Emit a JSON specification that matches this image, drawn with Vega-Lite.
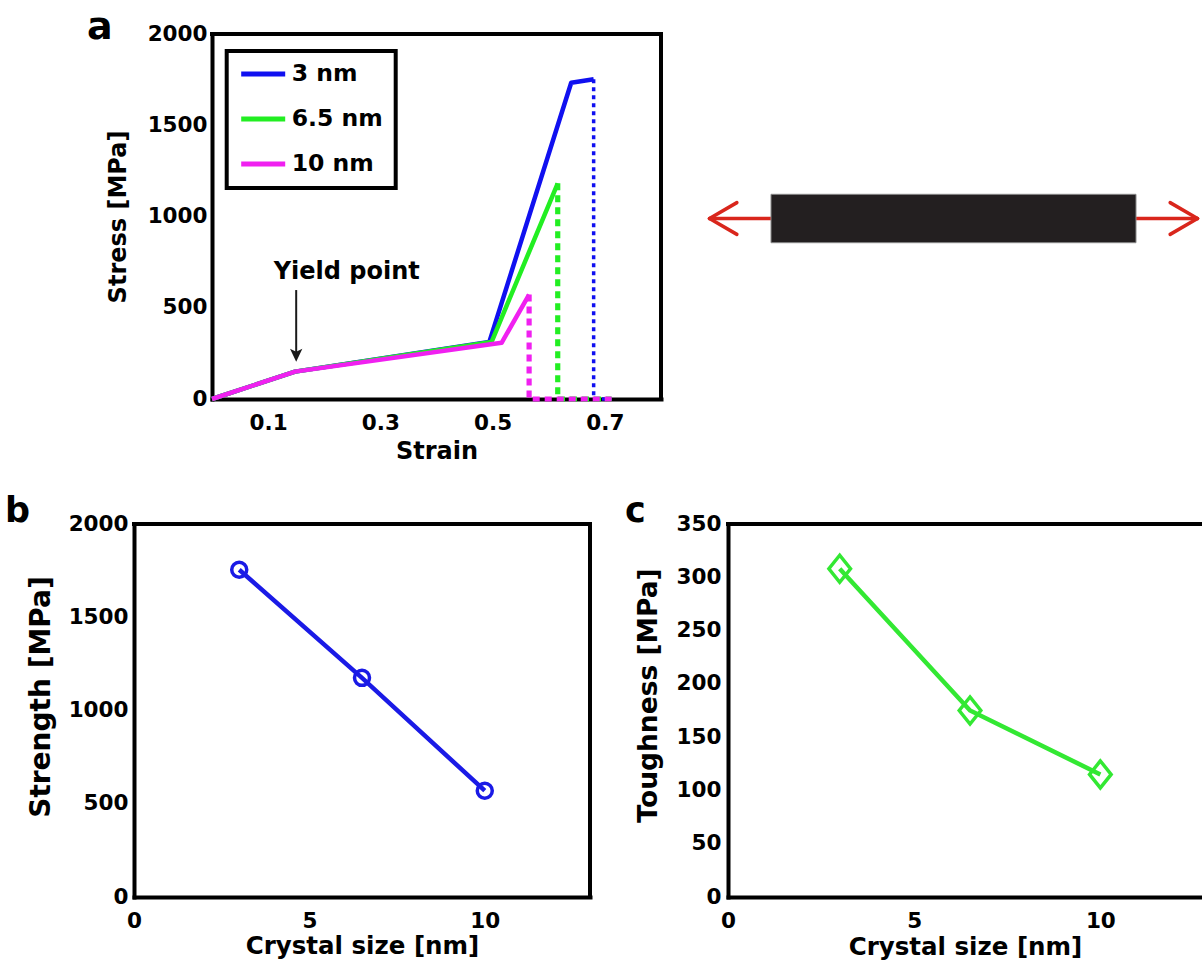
{
  "$schema": "https://vega.github.io/schema/vega-lite/v6.json",
  "autosize": {"type": "none"},
  "padding": {"left": 134, "top": 34, "right": 1068, "bottom": 931},
  "background": "white",
  "columns": 2,
  "align": "each",
  "bounds": "flush",
  "spacing": {"row": 125, "column": 20},
  "config": {
    "view": {"stroke": null},
    "font": "DejaVu Sans",
    "axis": {
      "labelFont": "DejaVu Sans", "labelFontWeight": "bold", "labelFontSize": 21.5, "labelColor": "black",
      "titleFont": "DejaVu Sans", "titleFontWeight": "bold", "titleFontSize": 24, "titleColor": "black",
      "ticks": false, "tickSize": 0, "grid": false,
      "domain": true, "domainColor": "black", "domainWidth": 4, "domainCap": "square",
      "labelFlush": false, "labelOverlap": false
    },
    "legend": {"strokeWidth": 4},
    "title": {"font": "DejaVu Sans", "fontWeight": "bold", "color": "black", "anchor": "start", "frame": "group", "baseline": "alphabetic", "offset": 0}
  },
  "datasets": {
    "curves": [
      {"series": "3 nm", "part": "solid", "i": 0, "strain": 0, "stress": 0},
      {"series": "3 nm", "part": "solid", "i": 1, "strain": 0.148, "stress": 150},
      {"series": "3 nm", "part": "solid", "i": 2, "strain": 0.494, "stress": 312},
      {"series": "3 nm", "part": "solid", "i": 3, "strain": 0.640, "stress": 1733},
      {"series": "3 nm", "part": "solid", "i": 4, "strain": 0.680, "stress": 1752},
      {"series": "3 nm", "part": "dot", "i": 5, "strain": 0.680, "stress": 1752},
      {"series": "3 nm", "part": "dot", "i": 6, "strain": 0.680, "stress": 0},
      {"series": "3 nm", "part": "dot", "i": 7, "strain": 0.712, "stress": 0},
      {"series": "6.5 nm", "part": "solid", "i": 0, "strain": 0, "stress": 0},
      {"series": "6.5 nm", "part": "solid", "i": 1, "strain": 0.148, "stress": 150},
      {"series": "6.5 nm", "part": "solid", "i": 2, "strain": 0.498, "stress": 312},
      {"series": "6.5 nm", "part": "solid", "i": 3, "strain": 0.616, "stress": 1182},
      {"series": "6.5 nm", "part": "dot", "i": 4, "strain": 0.616, "stress": 1182},
      {"series": "6.5 nm", "part": "dot", "i": 5, "strain": 0.616, "stress": 0},
      {"series": "6.5 nm", "part": "dot", "i": 6, "strain": 0.712, "stress": 0},
      {"series": "10 nm", "part": "solid", "i": 0, "strain": 0, "stress": 0},
      {"series": "10 nm", "part": "solid", "i": 1, "strain": 0.148, "stress": 150},
      {"series": "10 nm", "part": "solid", "i": 2, "strain": 0.516, "stress": 308},
      {"series": "10 nm", "part": "solid", "i": 3, "strain": 0.565, "stress": 572},
      {"series": "10 nm", "part": "dot", "i": 4, "strain": 0.565, "stress": 572},
      {"series": "10 nm", "part": "dot", "i": 5, "strain": 0.565, "stress": 0},
      {"series": "10 nm", "part": "dot", "i": 6, "strain": 0.712, "stress": 0}
    ],
    "strength": [
      {"size": 3, "strength": 1755},
      {"size": 6.5, "strength": 1175},
      {"size": 10, "strength": 570}
    ],
    "toughness": [
      {"size": 3, "toughness": 308},
      {"size": 6.5, "toughness": 175},
      {"size": 10, "toughness": 115}
    ],
    "arrows": [
      {"x": -1.337, "y": 0, "x2": -1, "y2": 0},
      {"x": -1.337, "y": 0, "x2": -1.187, "y2": 0.087},
      {"x": -1.337, "y": 0, "x2": -1.187, "y2": -0.087},
      {"x": 1.337, "y": 0, "x2": 1, "y2": 0},
      {"x": 1.337, "y": 0, "x2": 1.187, "y2": 0.087},
      {"x": 1.337, "y": 0, "x2": 1.187, "y2": -0.087}
    ],
    "bar": [
      {"x": -1, "x2": 1, "y": -0.1326, "y2": 0.1326}
    ]
  },
  "concat": [
    {
      "width": 527, "height": 365,
      "title": {"text": "a", "fontSize": 38, "dx": -47, "dy": 28},
      "layer": [
        {
          "data": {"values": [{}]},
          "mark": {"type": "rule", "strokeWidth": 4, "strokeCap": "square", "color": "black"},
          "encoding": {
            "x": {"datum": 0, "type": "quantitative"},
            "x2": {"datum": 0.8},
            "y": {"datum": 2000, "type": "quantitative"}
          }
        },
        {
          "data": {"values": [{}]},
          "mark": {"type": "rule", "strokeWidth": 4, "strokeCap": "square", "color": "black"},
          "encoding": {"x": {"datum": 0.8, "type": "quantitative"}}
        },
        {
          "data": {"name": "curves"},
          "transform": [{"filter": "datum.part === 'solid'"}],
          "mark": {"type": "line", "strokeWidth": 4.5, "strokeJoin": "round"},
          "encoding": {
            "x": {"field": "strain", "type": "quantitative",
                  "scale": {"domain": [0, 0.8], "range": [78, 527], "nice": false, "zero": false},
                  "axis": {"values": [0.1, 0.3, 0.5, 0.7], "format": ".1f", "title": "Strain",
                           "labelPadding": 13, "titleY": 52.7, "titleBaseline": "middle"}},
            "y": {"field": "stress", "type": "quantitative",
                  "scale": {"domain": [0, 2000], "nice": false},
                  "axis": {"values": [0, 500, 1000, 1500, 2000], "format": "d", "title": "Stress [MPa]", "offset": -78,
                           "labelPadding": 5, "titleX": -94, "titleY": 182.5, "titleBaseline": "middle"}},
            "color": {"field": "series", "type": "nominal",
                      "scale": {"domain": ["3 nm", "6.5 nm", "10 nm"], "range": ["#1010f0", "#22ee22", "#f020f0"]},
                      "legend": {"orient": "none", "legendX": 92.7, "legendY": 17, "title": null,
                                 "strokeColor": "black", "fillColor": "white", "padding": 12,
                                 "symbolType": "stroke", "symbolSize": 1936, "symbolStrokeWidth": 5,
                                 "clipHeight": 22, "rowPadding": 21, "labelOffset": 4, "symbolOffset": 0,
                                 "labelFont": "DejaVu Sans", "labelFontSize": 23.5, "labelFontWeight": "bold",
                                 "labelColor": "black", "labelLimit": 300}},
            "order": {"field": "i", "type": "quantitative"}
          }
        },
        {
          "data": {"name": "curves"},
          "transform": [{"filter": "datum.part === 'dot' && datum.series === '3 nm'"}],
          "mark": {"type": "line", "strokeWidth": 3.5, "strokeDash": [4, 4]},
          "encoding": {
            "x": {"field": "strain", "type": "quantitative"},
            "y": {"field": "stress", "type": "quantitative"},
            "color": {"field": "series", "type": "nominal", "legend": null},
            "order": {"field": "i", "type": "quantitative"}
          }
        },
        {
          "data": {"name": "curves"},
          "transform": [{"filter": "datum.part === 'dot' && datum.series !== '3 nm'"}],
          "mark": {"type": "line", "strokeWidth": 5.2, "strokeDash": [7, 5]},
          "encoding": {
            "x": {"field": "strain", "type": "quantitative"},
            "y": {"field": "stress", "type": "quantitative"},
            "color": {"field": "series", "type": "nominal", "legend": null},
            "order": {"field": "i", "type": "quantitative"}
          }
        },
        {
          "data": {"values": [{}]},
          "mark": {"type": "text", "text": "Yield point", "font": "DejaVu Sans", "fontSize": 24, "fontWeight": "bold",
                   "align": "center", "baseline": "middle", "color": "black"},
          "encoding": {
            "x": {"datum": 0.24, "type": "quantitative"},
            "y": {"datum": 696, "type": "quantitative"}
          }
        },
        {
          "data": {"values": [{}]},
          "mark": {"type": "rule", "strokeWidth": 2, "color": "#1a1a1a"},
          "encoding": {
            "x": {"datum": 0.15, "type": "quantitative"},
            "y": {"datum": 597, "type": "quantitative"},
            "y2": {"datum": 250}
          }
        },
        {
          "data": {"values": [{}]},
          "mark": {"type": "point", "shape": "M0,1L-0.95,-1L0,-0.55L0.95,-1Z", "filled": true, "size": 169,
                   "color": "#1a1a1a", "opacity": 1, "strokeWidth": 0},
          "encoding": {
            "x": {"datum": 0.15, "type": "quantitative"},
            "y": {"datum": 240, "type": "quantitative"}
          }
        }
      ]
    },
    {
      "width": 521, "height": 365,
      "layer": [
        {
          "data": {"name": "arrows"},
          "mark": {"type": "rule", "color": "#d9261c", "strokeWidth": 3.5, "strokeCap": "round"},
          "encoding": {
            "x": {"field": "x", "type": "quantitative", "scale": {"domain": [-1.4932, 1.3616], "nice": false, "zero": false}, "axis": null},
            "x2": {"field": "x2"},
            "y": {"field": "y", "type": "quantitative", "scale": {"domain": [-0.989, 1.011], "nice": false, "zero": false}, "axis": null},
            "y2": {"field": "y2"}
          }
        },
        {
          "data": {"name": "bar"},
          "mark": {"type": "rect", "color": "#231f20", "stroke": "#8a8a8a", "strokeWidth": 1},
          "encoding": {
            "x": {"field": "x", "type": "quantitative", "scale": {"domain": [-1.4932, 1.3616], "nice": false, "zero": false}, "axis": null},
            "x2": {"field": "x2"},
            "y": {"field": "y", "type": "quantitative", "scale": {"domain": [-0.989, 1.011], "nice": false, "zero": false}, "axis": null},
            "y2": {"field": "y2"}
          }
        }
      ]
    },
    {
      "width": 456, "height": 373,
      "title": {"text": "b", "fontSize": 35, "dx": -129, "dy": 20},
      "layer": [
        {
          "data": {"values": [{}]},
          "mark": {"type": "rule", "strokeWidth": 4, "strokeCap": "square", "color": "black"},
          "encoding": {"y": {"datum": 2000, "type": "quantitative"}}
        },
        {
          "data": {"values": [{}]},
          "mark": {"type": "rule", "strokeWidth": 4, "strokeCap": "square", "color": "black"},
          "encoding": {"x": {"datum": 13, "type": "quantitative"}}
        },
        {
          "data": {"name": "strength"},
          "mark": {"type": "line", "color": "#1a1ae6", "strokeWidth": 4.5},
          "encoding": {
            "x": {"field": "size", "type": "quantitative",
                  "scale": {"domain": [0, 13], "nice": false},
                  "axis": {"values": [0, 5, 10], "format": "d", "title": "Crystal size [nm]", "labelPadding": 13,
                           "titleY": 49, "titleBaseline": "middle", "titleFontSize": 24.5}},
            "y": {"field": "strength", "type": "quantitative",
                  "scale": {"domain": [0, 2000], "nice": false},
                  "axis": {"values": [0, 500, 1000, 1500, 2000], "format": "d", "title": "Strength [MPa]", "labelPadding": 6,
                           "titleX": -93, "titleY": 172.5, "titleBaseline": "middle", "titleFontSize": 28}}
          }
        },
        {
          "data": {"name": "strength"},
          "mark": {"type": "point", "shape": "circle", "filled": false, "size": 225, "strokeWidth": 3.5,
                   "color": "#1a1ae6", "opacity": 1},
          "encoding": {
            "x": {"field": "size", "type": "quantitative"},
            "y": {"field": "strength", "type": "quantitative"}
          }
        }
      ]
    },
    {
      "width": 521, "height": 373,
      "title": {"text": "c", "fontSize": 35, "dx": -56, "dy": 20},
      "layer": [
        {
          "data": {"values": [{}]},
          "mark": {"type": "rule", "strokeWidth": 4, "strokeCap": "square", "color": "black"},
          "encoding": {
            "x": {"datum": 0, "type": "quantitative"},
            "x2": {"datum": 12.73},
            "y": {"datum": 350, "type": "quantitative"}
          }
        },
        {
          "data": {"name": "toughness"},
          "mark": {"type": "line", "color": "#33e833", "strokeWidth": 4.5},
          "encoding": {
            "x": {"field": "size", "type": "quantitative",
                  "scale": {"domain": [0, 12.73], "range": [47, 521], "nice": false},
                  "axis": {"values": [0, 5, 10], "format": "d", "title": "Crystal size [nm]", "labelPadding": 13,
                           "titleY": 50, "titleBaseline": "middle", "titleFontSize": 24.5}},
            "y": {"field": "toughness", "type": "quantitative",
                  "scale": {"domain": [0, 350], "nice": false},
                  "axis": {"values": [0, 50, 100, 150, 200, 250, 300, 350], "format": "d", "title": "Toughness [MPa]", "offset": -47,
                           "labelPadding": 7, "titleX": -80, "titleY": 171, "titleBaseline": "middle", "titleFontSize": 26.5}}
          }
        },
        {
          "data": {"name": "toughness"},
          "mark": {"type": "point", "shape": "M0,-1L-0.8,0L0,1L0.8,0Z", "filled": false, "size": 729, "strokeWidth": 3.5,
                   "color": "#33e833", "opacity": 1},
          "encoding": {
            "x": {"field": "size", "type": "quantitative"},
            "y": {"field": "toughness", "type": "quantitative"}
          }
        }
      ]
    }
  ]
}
